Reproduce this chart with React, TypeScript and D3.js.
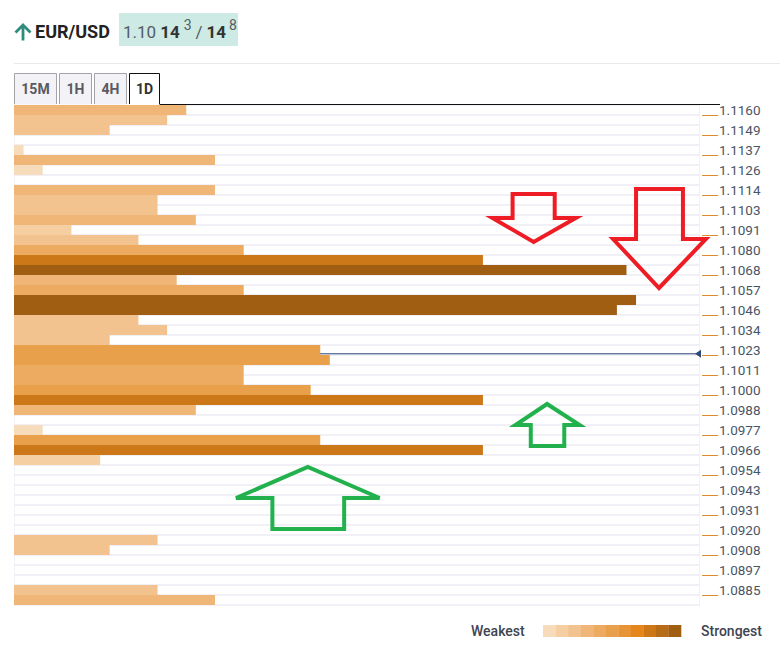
import * as d3 from "d3";

// strength per row (top = highest price)
const strength = [
  18, 16, 10, 0, 1, 21, 3, 0, 21, 15,
  15, 19, 6, 13, 24, 49, 64, 17, 24, 65,
  63, 13, 16, 10, 32, 33, 24, 24, 31, 49,
  19, 0, 3, 32, 49, 9, 0, 0, 0, 0,
  0, 0, 0, 15, 10, 0, 0, 0, 15, 21,
];
// colour bucket per row, 1 = weakest .. 11 = strongest
const level = [
  4, 3, 3, 0, 1, 4, 1, 0, 4, 3,
  3, 4, 2, 3, 5, 9, 11, 4, 5, 11,
  11, 3, 3, 3, 6, 6, 5, 5, 6, 9,
  4, 0, 1, 6, 9, 2, 0, 0, 0, 0,
  0, 0, 0, 3, 3, 0, 0, 0, 3, 4,
];
const tickLabels = [
  "1.1160", "1.1149", "1.1137", "1.1126", "1.1114", "1.1103", "1.1091",
  "1.1080", "1.1068", "1.1057", "1.1046", "1.1034", "1.1023", "1.1011",
  "1.1000", "1.0988", "1.0977", "1.0966", "1.0954", "1.0943", "1.0931",
  "1.0920", "1.0908", "1.0897", "1.0885",
];
const legendColors = [
  "#f7dcbc", "#f5cfa2", "#f2c38e", "#efb677", "#edab62", "#e9a04b",
  "#e79436", "#e4861c", "#cc7818", "#b66b16", "#a05e13",
];
const tabs = ["15M", "1H", "4H", "1D"];
const tabWidths = [43, 33, 33, 31];
const price = 1.10232;

// hand-drawn annotation arrows, in (strength, row) units
type Arrow = { dir: "down" | "up"; color: string; sL: number; sR: number; wL: number; wR: number; tipX: number; base: number; head: number; tip: number };
const arrows: Arrow[] = [
  { dir: "down", color: "#ee1c25", sL: 52.1, sR: 56.5, wL: 50.0, wR: 58.7, tipX: 54.3, base: 8.9, head: 11.3, tip: 13.7 },
  { dir: "down", color: "#ee1c25", sL: 65.0, sR: 69.9, wL: 62.6, wR: 72.3, tipX: 67.4, base: 8.4, head: 13.4, tip: 18.3 },
  { dir: "up", color: "#22b14c", sL: 54.0, sR: 57.5, wL: 52.4, wR: 59.1, tipX: 55.7, base: 34.1, head: 32.0, tip: 29.9 },
  { dir: "up", color: "#22b14c", sL: 27.0, sR: 34.5, wL: 23.2, wR: 38.2, tipX: 30.7, base: 42.4, head: 39.3, tip: 36.2 },
];

const W = 780;
const H = 648;
const left = 14;
const right = 700;
const top = 105;
const rowH = 10;
const font = "Roboto, 'Noto Sans', sans-serif";

export default function App() {
  const x = d3.scaleLinear().domain([0, 72]).range([left, left + 72 * 9.57]);
  const rowY = d3.scaleLinear().domain([0, strength.length]).range([top, top + strength.length * rowH]);
  const priceY = d3
    .scaleLinear()
    .domain([+tickLabels[0], +tickLabels[tickLabels.length - 1]])
    .range([rowY(1), rowY(1 + 2 * (tickLabels.length - 1))]);
  const colorOf = (l: number) => legendColors[l - 1];

  const tabX = tabWidths.map((_, i) => left + d3.sum(tabWidths.slice(0, i)) + i * 2);

  const arrowPath = (a: Arrow) => {
    const pts: [number, number][] = [
      [x(a.sL), rowY(a.base)],
      [x(a.sR), rowY(a.base)],
      [x(a.sR), rowY(a.head)],
      [x(a.wR), rowY(a.head)],
      [x(a.tipX), rowY(a.tip)],
      [x(a.wL), rowY(a.head)],
      [x(a.sL), rowY(a.head)],
    ];
    return d3.line()(pts) + "Z";
  };

  const py = priceY(price);

  return (
    <div style={{ position: "absolute", left: 0, top: 0 }}>
      <svg width={W} height={H} style={{ display: "block", fontFamily: font }}>
        <rect width={W} height={H} fill="#fff" />

        {/* header */}
        <path d="M23,40.5 V25 M15.5,32.5 L23,25 L30.5,32.5" stroke="#2e8b7d" strokeWidth={2.8} fill="none" />
        <text x={35} y={38} fontSize={18} fontWeight={700} fill="#222">EUR/USD</text>
        <rect x={119} y={13} width={119} height={33} fill="#cdeae4" />
        <text x={123} y={38} fontSize={17} fill="#555b63">
          1.10
          <tspan dx={4} fontWeight={700} fill="#333">14</tspan>
          <tspan dx={4} dy={-8} fontSize={14}>3</tspan>
          <tspan dx={4} dy={8}>/</tspan>
          <tspan dx={4} fontWeight={700} fill="#333">14</tspan>
          <tspan dx={3} dy={-8} fontSize={14}>8</tspan>
        </text>
        <line x1={14} x2={W} y1={63.5} y2={63.5} stroke="#e9e9ec" strokeWidth={1} />

        {/* tabs */}
        {tabs.map((t, i) => {
          const active = i === tabs.length - 1;
          const x0 = tabX[i];
          const w = tabWidths[i];
          return (
            <g key={t}>
              <rect x={x0 + 0.5} y={73.5} width={w - 1} height={31} fill={active ? "#fff" : "#f2f2f7"} stroke="none" />
              <path
                d={`M${x0 + 0.5},104 V${73.5} H${x0 + w - 0.5} V104`}
                fill="none"
                stroke={active ? "#111" : "#a3a3a8"}
                strokeWidth={1}
              />
              <text x={x0 + w / 2} y={93.5} textAnchor="middle" fontSize={14} fontWeight={700} fill={active ? "#333" : "#5a5a60"}>
                {t}
              </text>
            </g>
          );
        })}
        <line x1={tabX[3] + tabWidths[3] - 0.5} x2={720} y1={104.5} y2={104.5} stroke="#111" strokeWidth={1} />

        {/* row backgrounds */}
        <rect x={left} y={top} width={right - left} height={strength.length * rowH + 1} fill="#f0f0f6" />
        {strength.map((_, i) => (
          <rect key={"bg" + i} x={left + 1} y={rowY(i) + 1} width={right - left - 2} height={rowH - 2} fill="#fff" />
        ))}

        {/* current price line */}
        <line x1={left} x2={696} y1={py} y2={py} stroke="#2b4a7a" strokeWidth={1} />
        <path d={`M695,${py} L701,${py - 4} L701,${py + 4} Z`} fill="#2b4a7a" />

        {/* bars */}
        {strength.map((s, i) =>
          s > 0 ? (
            <rect key={"b" + i} x={x(0)} y={rowY(i)} width={x(s) - x(0)} height={rowH} fill={colorOf(level[i])} />
          ) : null,
        )}

        {/* axis */}
        {tickLabels.map((t, i) => {
          const y = rowY(1 + 2 * i);
          return (
            <g key={t}>
              <line x1={702} x2={718} y1={y + 0.5} y2={y + 0.5} stroke="#e08a2a" strokeWidth={1} />
              <text x={719} y={y} fontSize={13.5} fill="#4a5566">{t}</text>
            </g>
          );
        })}

        {/* annotation arrows */}
        {arrows.map((a, i) => (
          <path key={"a" + i} d={arrowPath(a)} fill="none" stroke={a.color} strokeWidth={4} strokeLinejoin="miter" />
        ))}

        {/* legend */}
        <text x={471} y={636} fontSize={14} fontWeight={500} fill="#3d4451">Weakest</text>
        {legendColors.map((c, i) => (
          <rect key={c} x={543 + i * 12.55} y={625} width={12.8} height={12} fill={c} />
        ))}
        <text x={701} y={636} fontSize={14} fontWeight={500} fill="#3d4451">Strongest</text>
      </svg>
    </div>
  );
}
